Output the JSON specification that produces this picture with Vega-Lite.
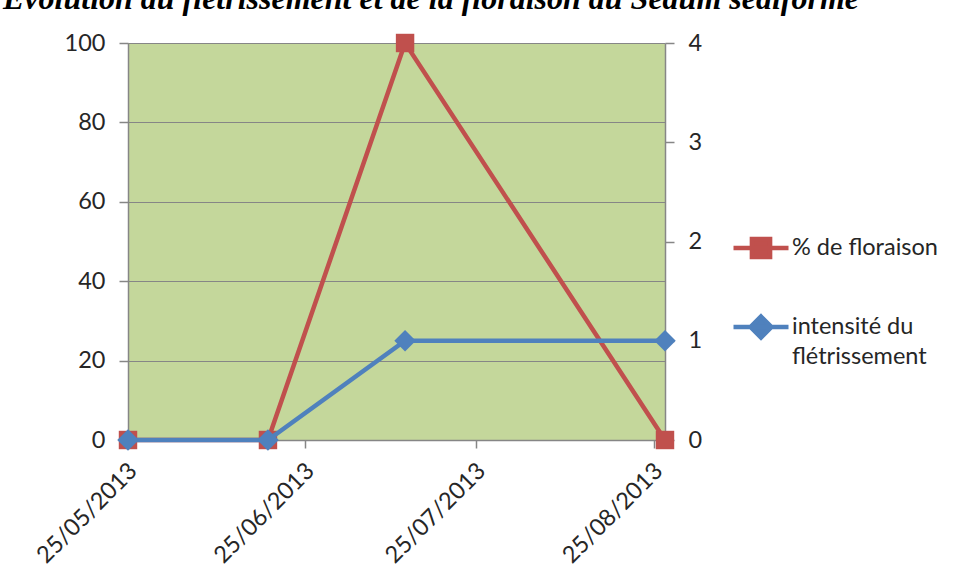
{
  "$schema": "https://vega.github.io/schema/vega-lite/v6.json",
  "autosize": "none",
  "width": 537,
  "height": 397,
  "padding": {"left": 128, "top": 43, "right": 296, "bottom": 144},
  "background": "white",
  "title": {
    "text": "Evolution du flétrissement et de la floraison du Sedum sediforme",
    "font": "Liberation Serif",
    "fontSize": 32,
    "fontStyle": "italic",
    "fontWeight": "bold",
    "color": "#000000",
    "anchor": "start",
    "frame": "group",
    "dx": -125,
    "offset": 15
  },
  "config": {
    "view": {"fill": "#C4D79B", "stroke": null},
    "axis": {
      "labelFont": "Lato",
      "labelFontSize": 23.5,
      "labelColor": "#262626",
      "domainColor": "#868686",
      "tickColor": "#868686",
      "gridColor": "#868686",
      "gridOpacity": 1,
      "domainWidth": 1.5,
      "tickWidth": 1.5,
      "gridWidth": 1.2,
      "tickSize": 9,
      "title": null
    }
  },
  "data": {
    "values": [
      {"date": "2013-05-25T00:00:00Z", "serie": "% de floraison", "valeur": 0},
      {"date": "2013-06-18T12:00:00Z", "serie": "% de floraison", "valeur": 0},
      {"date": "2013-07-12T12:00:00Z", "serie": "% de floraison", "valeur": 100},
      {"date": "2013-08-27T00:00:00Z", "serie": "% de floraison", "valeur": 0},
      {"date": "2013-05-25T00:00:00Z", "serie": "intensité du flétrissement", "valeur": 0},
      {"date": "2013-06-18T12:00:00Z", "serie": "intensité du flétrissement", "valeur": 0},
      {"date": "2013-07-12T12:00:00Z", "serie": "intensité du flétrissement", "valeur": 1},
      {"date": "2013-08-27T00:00:00Z", "serie": "intensité du flétrissement", "valeur": 1}
    ]
  },
  "encoding": {
    "x": {
      "field": "date",
      "type": "temporal",
      "scale": {"type": "utc", "domain": [{"year": 2013, "month": 5, "date": 25, "utc": true}, {"year": 2013, "month": 8, "date": 27, "utc": true}]},
      "axis": {
        "values": [
          {"year": 2013, "month": 5, "date": 25, "utc": true},
          {"year": 2013, "month": 6, "date": 25, "utc": true},
          {"year": 2013, "month": 7, "date": 25, "utc": true},
          {"year": 2013, "month": 8, "date": 25, "utc": true}
        ],
        "labelExpr": "utcFormat(datum.value, '%d/%m/%Y')",
        "labelAngle": -45,
        "labelAlign": "right",
        "labelBaseline": "middle",
        "labelPadding": 19,
        "labelOffset": 5,
        "grid": false,
        "tickSize": 8
      }
    }
  },
  "layer": [
    {
      "transform": [{"filter": "datum.serie === '% de floraison'"}],
      "encoding": {
        "y": {
          "field": "valeur",
          "type": "quantitative",
          "scale": {"domain": [0, 100], "nice": false},
          "axis": {"orient": "left", "values": [0, 20, 40, 60, 80, 100], "grid": true, "labelPadding": 14}
        }
      },
      "layer": [
        {
          "mark": {"type": "line", "strokeWidth": 4.5},
          "encoding": {
            "color": {
              "field": "serie",
              "type": "nominal",
              "scale": {"domain": ["% de floraison", "intensité du flétrissement"], "range": ["#C0504D", "#4F81BD"]},
              "legend": {
                "orient": "none",
                "legendX": 603,
                "legendY": 175,
                "title": null,
                "labelFont": "Lato",
                "labelFontSize": 23.5,
                "labelColor": "#262626",
                "labelLimit": 300,
                "labelOffset": 1,
                "rowPadding": 30,
                "symbolSize": 3025,
                "symbolStrokeWidth": 4.5,
                "labelBaseline": "middle",
                "labelExpr": "datum.label === 'intensité du flétrissement' ? ['intensité du', 'flétrissement'] : datum.label",
                "encode": {
                  "labels": {
                    "update": {
                      "lineHeight": {"value": 30}
                    }
                  },
                  "symbols": {
                    "update": {
                      "shape": {"signal": "datum.value === '% de floraison' ? 'M-1,0L1,0M-0.33,-0.33L0.33,-0.33L0.33,0.33L-0.33,0.33Z' : 'M-1,0L1,0M0,-0.38L0.38,0L0,0.38L-0.38,0Z'"},
                      "fill": {"scale": "color", "field": "value"},
                      "stroke": {"scale": "color", "field": "value"},
                      "strokeWidth": {"value": 4.5},
                      "opacity": {"value": 1}
                    }
                  }
                }
              }
            }
          }
        },
        {
          "mark": {"type": "point", "shape": "square", "filled": true, "size": 340, "color": "#C0504D", "opacity": 1}
        }
      ]
    },
    {
      "transform": [{"filter": "datum.serie === 'intensité du flétrissement'"}],
      "encoding": {
        "y": {
          "field": "valeur",
          "type": "quantitative",
          "scale": {"domain": [0, 4], "nice": false},
          "axis": {"orient": "right", "values": [0, 1, 2, 3, 4], "grid": false, "labelPadding": 14}
        }
      },
      "layer": [
        {
          "mark": {"type": "line", "strokeWidth": 4.5},
          "encoding": {
            "color": {"field": "serie", "type": "nominal"}
          }
        },
        {
          "mark": {"type": "point", "shape": "diamond", "filled": true, "size": 460, "color": "#4F81BD", "opacity": 1}
        }
      ]
    }
  ],
  "resolve": {"scale": {"y": "independent"}}
}
